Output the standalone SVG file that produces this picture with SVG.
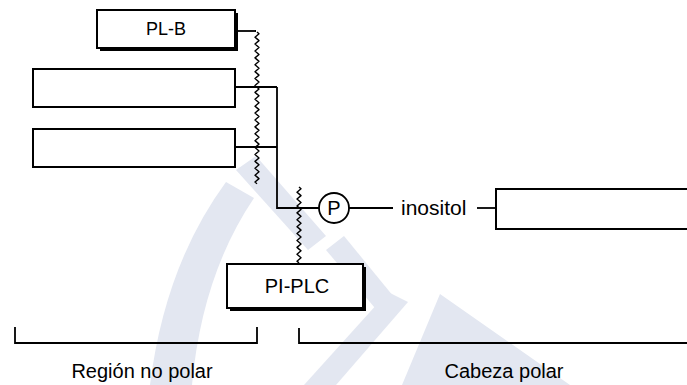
<svg xmlns="http://www.w3.org/2000/svg" width="687" height="385" viewBox="0 0 687 385">
<style>
  .wm { fill: #e3e7f1; }
  .box { fill: #ffffff; stroke: #000; stroke-width: 2; }
  .shadow { fill: #000; }
  .ln { fill: none; stroke: #000; stroke-width: 1.8; }
  .wave { fill: none; stroke: #000; stroke-width: 1.4; stroke-linejoin: round; }
  text { font-family: "Liberation Sans", Arial, sans-serif; fill: #000; }
  .lbl { font-size: 20px; }
</style>
<rect width="687" height="385" fill="#ffffff"/>
<g id="watermark">
  <path class="wm" d="M236,170 L256,156 L326,236 L308,250 Z"/>
  <path class="wm" d="M326,250 L344,236 L398,302 L380,314 Z"/>
  <path class="wm" d="M304,385 L336,385 L408,302 L388,292 Z"/>
  <path class="wm" d="M402,385 L440,294 L570,385 Z"/>
  <path class="wm" d="M226,182 Q165,265 150,385 L192,385 Q202,275 254,198 Z"/>
</g>
<g id="connectors">
  <path class="ln" d="M235,31 H256"/>
  <path class="ln" d="M235,87 H277"/>
  <path class="ln" d="M235,147 H277"/>
  <path class="ln" d="M277,87 V208 H319"/>
  <path class="ln" d="M349,208 H393"/>
  <path class="ln" d="M477,208 H496"/>
  <path class="wave" d="M257,32 l2,1.725 -4,3.45 2,1.725 l2,1.725 -4,3.45 2,1.725 l2,1.725 -4,3.45 2,1.725 l2,1.725 -4,3.45 2,1.725 l2,1.725 -4,3.45 2,1.725 l2,1.725 -4,3.45 2,1.725 l2,1.725 -4,3.45 2,1.725 l2,1.725 -4,3.45 2,1.725 l2,1.725 -4,3.45 2,1.725 l2,1.725 -4,3.45 2,1.725 l2,1.725 -4,3.45 2,1.725 l2,1.725 -4,3.45 2,1.725 l2,1.725 -4,3.45 2,1.725 l2,1.725 -4,3.45 2,1.725 l2,1.725 -4,3.45 2,1.725 l2,1.725 -4,3.45 2,1.725 l2,1.725 -4,3.45 2,1.725 l2,1.725 -4,3.45 2,1.725 l2,1.725 -4,3.45 2,1.725 l2,1.725 -4,3.45 2,1.725 l2,1.725 -4,3.45 2,1.725 l2,1.725 -4,3.45 2,1.725"/>
  <path class="wave" d="M299,187 l2,1.725 -4,3.45 2,1.725 l2,1.725 -4,3.45 2,1.725 l2,1.725 -4,3.45 2,1.725 l2,1.725 -4,3.45 2,1.725 l2,1.725 -4,3.45 2,1.725 l2,1.725 -4,3.45 2,1.725 l2,1.725 -4,3.45 2,1.725 l2,1.725 -4,3.45 2,1.725 l2,1.725 -4,3.45 2,1.725 l2,1.725 -4,3.45 2,1.725 l2,1.725 -4,3.45 2,1.725"/>
  <path class="ln" d="M15,327 V343 H257 V327"/>
  <path class="ln" d="M299,328 V343 H690"/>
</g>
<g id="plb">
  <rect class="shadow" x="100" y="13" width="138" height="38"/>
  <rect class="box" x="97" y="10" width="138" height="38"/>
  <text x="166" y="35" font-size="18" text-anchor="middle">PL-B</text>
</g>
<g id="chain1">
  <rect class="box" x="33" y="69" width="202" height="38"/>
</g>
<g id="chain2">
  <rect class="box" x="33" y="129" width="202" height="38"/>
</g>
<g id="phosphate">
  <circle cx="334" cy="208" r="15" fill="#fff" stroke="#000" stroke-width="1.8"/>
  <text x="334" y="215" font-size="20" text-anchor="middle">P</text>
</g>
<g id="inositol">
  <text x="401" y="215" font-size="21">inositol</text>
</g>
<g id="headbox">
  <rect class="box" x="496" y="189" width="200" height="40"/>
</g>
<g id="piplc">
  <rect class="shadow" x="230" y="267" width="136" height="44"/>
  <rect class="box" x="227" y="264" width="136" height="44"/>
  <text x="297" y="293" font-size="20" text-anchor="middle">PI-PLC</text>
</g>
<g id="labels">
  <text class="lbl" x="142" y="378" text-anchor="middle">Región no polar</text>
  <text class="lbl" x="504" y="378" text-anchor="middle">Cabeza polar</text>
</g>
</svg>
